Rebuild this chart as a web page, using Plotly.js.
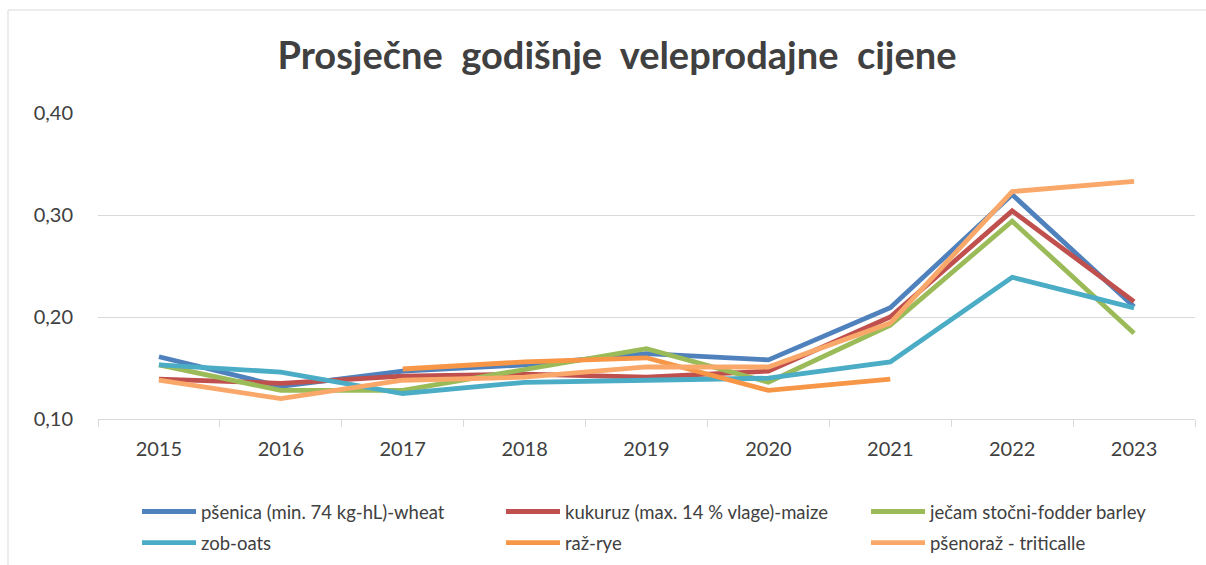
<!DOCTYPE html>
<html>
<head>
<meta charset="utf-8">
<script src="https://cdn.plot.ly/plotly-3.0.1.min.js"></script>
<style>html,body{margin:0;padding:0;background:#fff;}#chart{width:1206px;height:565px;}</style>
</head>
<body>
<div id="chart"></div>
<script>
const years = ['2015','2016','2017','2018','2019','2020','2021','2022','2023'];
const wheat = [0.161, 0.132, 0.147, 0.153, 0.164, 0.158, 0.209, 0.320, 0.210];
const maize = [0.139, 0.135, 0.142, 0.144, 0.141, 0.147, 0.200, 0.304, 0.215];
const barley = [0.153, 0.128, 0.128, 0.148, 0.169, 0.136, 0.192, 0.294, 0.184];
const oats = [0.153, 0.146, 0.125, 0.136, 0.138, 0.140, 0.156, 0.239, 0.209];
const rye = [null, null, 0.149, 0.156, 0.160, 0.128, 0.139, null, null];
const triticale = [0.138, 0.120, 0.138, 0.141, 0.151, 0.151, 0.194, 0.323, 0.333];
const seriesNames = ['pšenica (min. 74 kg-hL)-wheat', 'kukuruz (max. 14 % vlage)-maize', 'ječam stočni-fodder barley', 'zob-oats', 'raž-rye', 'pšenoraž - triticalle'];
const yTicks = [0.10, 0.20, 0.30, 0.40];

const FONT = 'Lato, "Open Sans", sans-serif';
const colors = ['#4F81BD', '#C0504D', '#9BBB59', '#4BACC6', '#F79646', '#F9A86A'];
const legends = ['legend', 'legend2', 'legend3', 'legend', 'legend2', 'legend3'];
const data = [wheat, maize, barley, oats, rye, triticale].map((vals, i) => ({
  type: 'scatter', mode: 'lines', x: years, y: vals, name: seriesNames[i],
  line: {color: colors[i], width: 4.8},
  connectgaps: false, legend: legends[i], legendgroup: 'g' + i, hoverinfo: 'skip'
}));

const L = 98, R = 1195, T = 113, B = 419;
const px = v => (v - L) / (R - L);
const py = v => (B - v) / (B - T);
const legendFont = {family: FONT, size: 18.5, color: '#404040'};
const legBase = {orientation: 'v', yanchor: 'top', xanchor: 'left', font: legendFont,
  bgcolor: 'rgba(0,0,0,0)', tracegroupgap: 4, traceorder: 'grouped', itemwidth: 54};

const layout = {
  width: 1206, height: 565,
  margin: {l: L, r: 1206 - R, t: T, b: 565 - B, autoexpand: false},
  paper_bgcolor: '#fff', plot_bgcolor: '#fff',
  separators: ', ',
  font: {family: FONT, color: '#404040'},
  title: {text: '<b>Prosječne\u00a0 godišnje\u00a0 veleprodajne\u00a0 cijene</b>', font: {family: FONT, size: 38, color: '#404040'},
    xref: 'container', yref: 'container', x: 617 / 1206, xanchor: 'center', y: 1 - 56 / 565, yanchor: 'middle'},
  xaxis: {type: 'category', range: [-0.5, 8.5], showgrid: false, showline: true, linecolor: '#D9D9D9', linewidth: 1,
    ticks: 'outside', tickson: 'boundaries', ticklen: 7, tickcolor: '#D9D9D9', tickwidth: 1, ticklabelstandoff: 12,
    tickfont: {family: FONT, size: 20, color: '#404040'}, fixedrange: true, zeroline: false},
  yaxis: {range: [0.10, 0.40], tickvals: yTicks, tickformat: '.2f', showgrid: true, gridcolor: '#D9D9D9', gridwidth: 1,
    showline: false, zeroline: false, ticks: '', tickfont: {family: FONT, size: 20, color: '#404040'}, ticklabelstandoff: 24},
  legend: Object.assign({}, legBase, {x: px(137), y: py(493)}),
  legend2: Object.assign({}, legBase, {x: px(501), y: py(493)}),
  legend3: Object.assign({}, legBase, {x: px(866), y: py(493)}),
  shapes: [{type: 'rect', xref: 'paper', yref: 'paper', x0: px(8), x1: px(1230), y0: py(590), y1: py(10),
    line: {color: '#D9D9D9', width: 1}, fillcolor: 'rgba(0,0,0,0)', layer: 'below'}],
  showlegend: true
};
Plotly.newPlot('chart', data, layout, {staticPlot: true, displayModeBar: false});
</script>
</body>
</html>
